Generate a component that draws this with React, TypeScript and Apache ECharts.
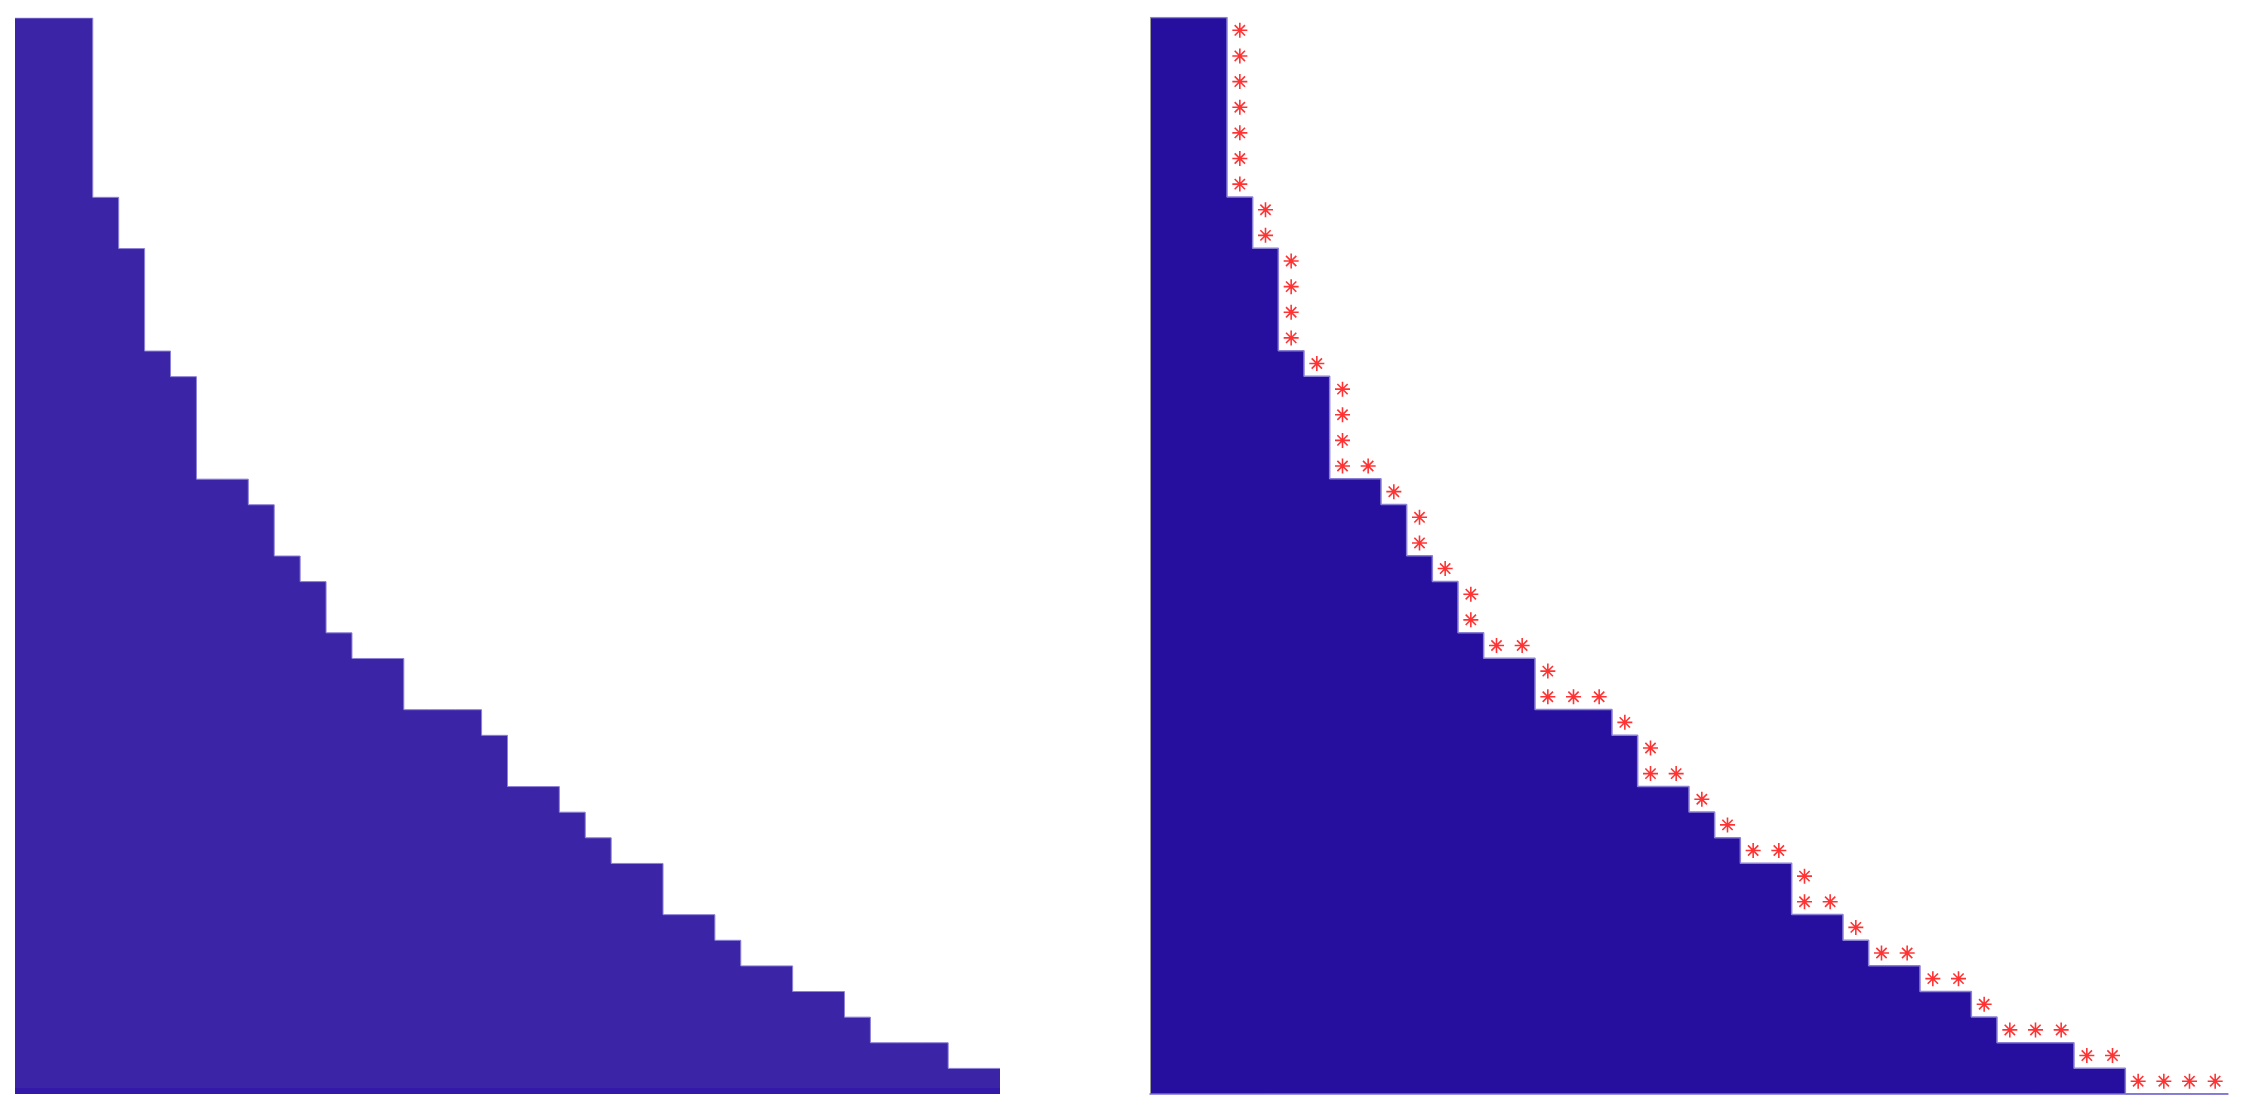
import React, { useEffect, useRef } from "react";
import * as echarts from "echarts";

// Step heights per unit column (left panel: 38 columns)
const leftValues = [42, 42, 42, 35, 33, 29, 28, 24, 24, 23, 21, 20, 18, 17, 17, 15, 15, 15, 14, 12, 12, 11, 10, 9, 9, 7, 7, 6, 5, 5, 4, 4, 3, 2, 2, 2, 1, 1];
// Right panel: same staircase, extended with four empty columns (42 columns)
const rightValues = [42, 42, 42, 35, 33, 29, 28, 24, 24, 23, 21, 20, 18, 17, 17, 15, 15, 15, 14, 12, 12, 11, 10, 9, 9, 7, 7, 6, 5, 5, 4, 4, 3, 2, 2, 2, 1, 1, 0, 0, 0, 0];

// Asterisk markers: [x, y] cell centres
const markerPoints: [number, number][] = [
  [3.5, 41.5], [3.5, 40.5], [3.5, 39.5], [3.5, 38.5], [3.5, 37.5], [3.5, 36.5], [3.5, 35.5],
  [4.5, 34.5], [4.5, 33.5],
  [5.5, 32.5], [5.5, 31.5], [5.5, 30.5], [5.5, 29.5],
  [6.5, 28.5],
  [7.5, 27.5], [7.5, 26.5], [7.5, 25.5], [7.5, 24.5],
  [8.5, 24.5],
  [9.5, 23.5],
  [10.5, 22.5], [10.5, 21.5],
  [11.5, 20.5],
  [12.5, 19.5], [12.5, 18.5],
  [13.5, 17.5],
  [14.5, 17.5],
  [15.5, 16.5], [15.5, 15.5],
  [16.5, 15.5],
  [17.5, 15.5],
  [18.5, 14.5],
  [19.5, 13.5], [19.5, 12.5],
  [20.5, 12.5],
  [21.5, 11.5],
  [22.5, 10.5],
  [23.5, 9.5],
  [24.5, 9.5],
  [25.5, 8.5], [25.5, 7.5],
  [26.5, 7.5],
  [27.5, 6.5],
  [28.5, 5.5],
  [29.5, 5.5],
  [30.5, 4.5],
  [31.5, 4.5],
  [32.5, 3.5],
  [33.5, 2.5],
  [34.5, 2.5],
  [35.5, 2.5],
  [36.5, 1.5],
  [37.5, 1.5],
  [38.5, 0.5], [39.5, 0.5], [40.5, 0.5], [41.5, 0.5],
];

const toStep = (vals: number[]) => {
  const pts: [number, number][] = vals.map((v, i) => [i, v]);
  pts.push([vals.length, vals[vals.length - 1]]);
  return pts;
};

const ASTERISK = "path://M0,-7L0,7M-7,0L7,0M-4.8,-4.8L4.8,4.8M-4.8,4.8L4.8,-4.8";

export default function App() {
  const ref = useRef<HTMLDivElement>(null);
  useEffect(() => {
    if (!ref.current) return;
    const chart = echarts.init(ref.current, undefined, { renderer: "svg" });
    const hiddenAxis = {
      axisLabel: { show: false },
      axisTick: { show: false },
      splitLine: { show: false },
    };
    chart.setOption({
      animation: false,
      backgroundColor: "#ffffff",
      grid: [
        { left: 15, top: 18, width: 985, height: 1076 },
        { left: 1150, top: 17.5, width: 1078, height: 1076.5 },
      ],
      xAxis: [
        {
          type: "value", gridIndex: 0, min: 0, max: leftValues.length, ...hiddenAxis,
          offset: -3, z: 5,
          axisLine: { show: true, lineStyle: { color: "#3319a9", width: 6, cap: "butt" } },
        },
        {
          type: "value", gridIndex: 1, min: 0, max: rightValues.length, ...hiddenAxis, z: 5,
          axisLine: { show: true, lineStyle: { color: "#7a6fd0", width: 1.5 } },
        },
      ],
      yAxis: [
        { type: "value", gridIndex: 0, min: 0, max: 42, ...hiddenAxis, axisLine: { show: false } },
        {
          type: "value", gridIndex: 1, min: 0, max: 42, ...hiddenAxis, z: 5,
          axisLine: { show: true, lineStyle: { color: "#9a9a9a", width: 1 } },
        },
      ],
      series: [
        {
          type: "line", xAxisIndex: 0, yAxisIndex: 0, step: "end", symbol: "none",
          data: toStep(leftValues),
          lineStyle: { color: "#8c82d8", width: 1 },
          areaStyle: { color: "#3c24a6", opacity: 1 },
        },
        {
          type: "line", xAxisIndex: 1, yAxisIndex: 1, step: "end", symbol: "none",
          data: toStep(rightValues),
          lineStyle: { color: "#8a80d6", width: 1.5 },
          areaStyle: { color: "#260f9f", opacity: 1 },
        },
        {
          type: "scatter", xAxisIndex: 1, yAxisIndex: 1,
          data: markerPoints,
          symbol: ASTERISK, symbolSize: 15, z: 6,
          itemStyle: { color: "rgba(0,0,0,0)", borderColor: "#ff0000", borderWidth: 1.6 },
        },
      ],
    });
    return () => chart.dispose();
  }, []);
  return (
    <div
      ref={ref}
      style={{ position: "fixed", left: 0, top: 0, width: 2253, height: 1116 }}
    />
  );
}
